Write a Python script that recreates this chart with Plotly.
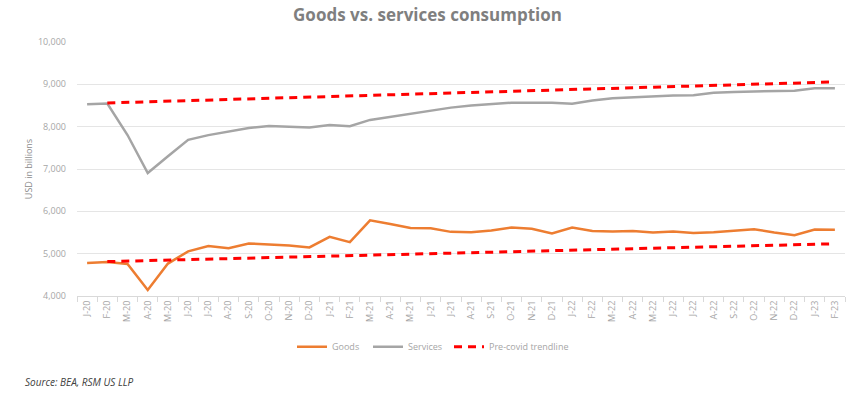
import plotly.graph_objects as go

months = ["J-20", "F-20", "M-20", "A-20", "M-20", "J-20", "J-20", "A-20", "S-20", "O-20", "N-20", "D-20",
          "J-21", "F-21", "M-21", "A-21", "M-21", "J-21", "J-21", "A-21", "S-21", "O-21", "N-21", "D-21",
          "J-22", "F-22", "M-22", "A-22", "M-22", "J-22", "J-22", "A-22", "S-22", "O-22", "N-22", "D-22",
          "J-23", "F-23"]

goods = [4780, 4803, 4755, 4140, 4766, 5054, 5178, 5131, 5241, 5225, 5194, 5148,
         5398, 5272, 5788, 5702, 5605, 5600, 5515, 5508, 5546, 5616, 5590, 5475,
         5616, 5538, 5523, 5538, 5500, 5523, 5491, 5507, 5538, 5577, 5500, 5437,
         5569, 5565]

services = [8528, 8545, 7803, 6905, 7300, 7690, 7800, 7885, 7970, 8015, 7990, 7980,
            8040, 8010, 8160, 8235, 8300, 8380, 8450, 8500, 8530, 8566, 8566, 8566,
            8543, 8620, 8670, 8690, 8724, 8735, 8745, 8803, 8820, 8835, 8845, 8850,
            8906, 8906]

trend_services = [None, 8560, 8574, 8588, 8601, 8615, 8629, 8643, 8657, 8670, 8684, 8698,
                  8712, 8726, 8739, 8753, 8767, 8781, 8795, 8808, 8822, 8836, 8850, 8864,
                  8877, 8891, 8905, 8919, 8933, 8946, 8960, 8974, 8988, 9002, 9015, 9029,
                  9043, 9057]

trend_goods = [None, 4813, 4825, 4836, 4848, 4860, 4871, 4883, 4895, 4907, 4918, 4930,
               4942, 4953, 4965, 4977, 4988, 5000, 5012, 5024, 5035, 5047, 5059, 5070,
               5082, 5094, 5105, 5117, 5129, 5141, 5152, 5164, 5176, 5187, 5199, 5211,
               5222, 5234]

y_ticks = [4000, 5000, 6000, 7000, 8000, 9000, 10000]

xs = list(range(len(months)))
FONT = "Open Sans"

fig = go.Figure()
fig.add_trace(go.Scatter(x=xs, y=goods, mode="lines", name="Goods", legend="legend",
                         line=dict(color="#ED7D31", width=2.5)))
fig.add_trace(go.Scatter(x=xs, y=services, mode="lines", name="Services", legend="legend2",
                         line=dict(color="#A5A5A5", width=2.5)))
fig.add_trace(go.Scatter(x=xs, y=trend_services, mode="lines", name="Pre-covid trendline",
                         legend="legend3",
                         line=dict(color="#FF0000", width=3, dash="8px,6px")))
fig.add_trace(go.Scatter(x=xs, y=trend_goods, mode="lines", name="Pre-covid trendline",
                         showlegend=False,
                         line=dict(color="#FF0000", width=3, dash="8px,6px")))

PW = 768  # plot width in px


def leg(px):
    return dict(orientation="h", x=(px - 77) / PW, xanchor="left", y=-0.2, yanchor="middle",
                font=dict(family=FONT, size=9, color="#A6A6A6"),
                itemwidth=30, bgcolor="rgba(0,0,0,0)")


fig.update_layout(
    width=855, height=395,
    margin=dict(l=77, r=10, t=42, b=99),
    paper_bgcolor="white", plot_bgcolor="white",
    font=dict(family=FONT, color="#A6A6A6", size=9),
    title=dict(text="<b>Goods vs. services consumption</b>",
               x=0.5, xref="container", xanchor="center",
               y=1 - 15 / 395, yref="container", yanchor="middle",
               font=dict(family=FONT, size=17, color="#7F7F7F")),
    showlegend=True,
    legend=leg(292), legend2=leg(368), legend3=leg(449),
    xaxis=dict(range=[-0.5, len(months) - 0.5],
               tickmode="array", tickvals=xs, ticktext=months,
               tickangle=-90, ticks="", showgrid=False, zeroline=False,
               showline=True, linecolor="#D9D9D9", linewidth=1,
               tickfont=dict(family=FONT, size=9, color="#A6A6A6"),
               minor=dict(tickmode="array",
                          tickvals=[i - 0.5 for i in range(len(months) + 1)],
                          ticks="outside", ticklen=5, tickcolor="#D9D9D9",
                          showgrid=False)),
    yaxis=dict(range=[4000, 10000], tickmode="array", tickvals=y_ticks,
               tickformat=",d", showgrid=True, gridcolor="#E5E5E5", gridwidth=1,
               zeroline=False, showline=False, ticks="",
               ticklabelstandoff=10,
               tickfont=dict(family=FONT, size=9, color="#A6A6A6"),
               title=dict(text="USD in billions", standoff=3,
                          font=dict(family=FONT, size=9, color="#8C8C8C"))),
)

fig.add_annotation(text="<i>Source: BEA, RSM US LLP</i>", xref="paper", yref="paper",
                   x=-77 / PW, xanchor="left", y=(296 - 382) / 254, yanchor="middle",
                   showarrow=False, xshift=23,
                   font=dict(family=FONT, size=10, color="#404040"))

fig.write_html("out.html", config={"displayModeBar": False},
               post_script="document.body.style.margin='0';document.body.style.overflow='hidden';")
